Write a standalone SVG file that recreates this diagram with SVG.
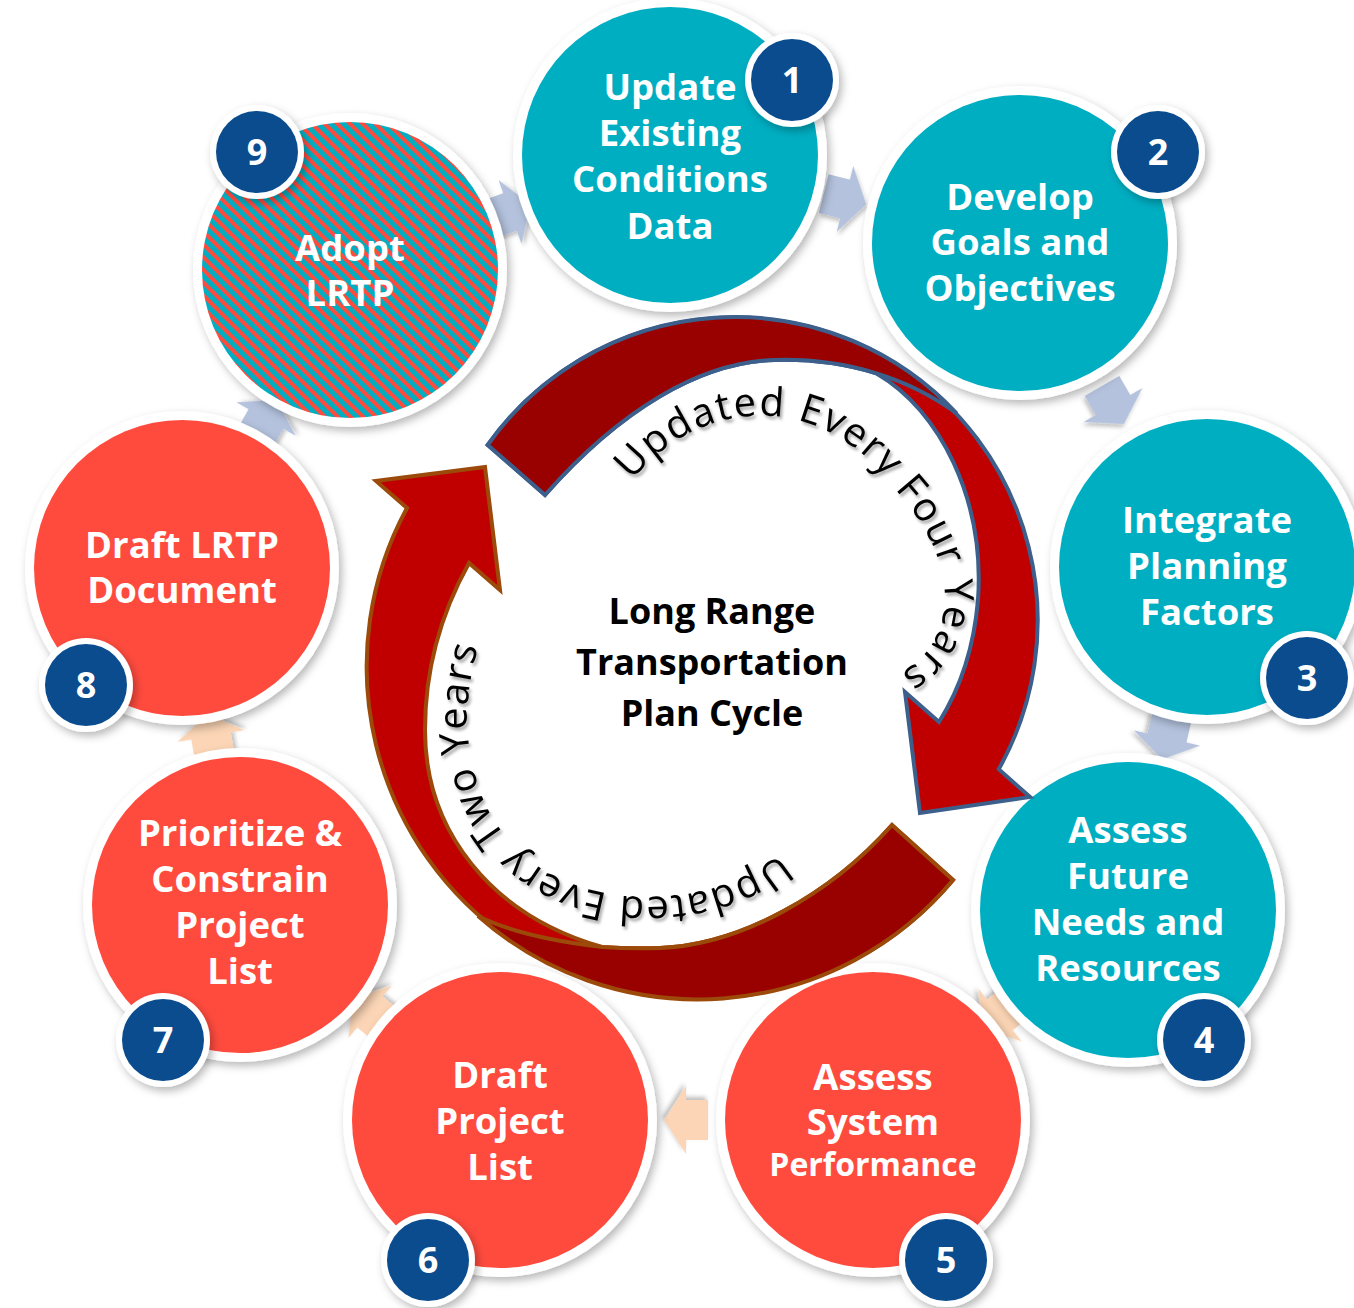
<svg xmlns="http://www.w3.org/2000/svg" xmlns:xlink="http://www.w3.org/1999/xlink" width="1354" height="1308" viewBox="0 0 1354 1308">
<style>
.nt{font-family:"Open Sans","Liberation Sans",sans-serif;font-weight:700;font-size:36.5px;fill:#fff;text-anchor:middle}
.bn{font-family:"Open Sans","Liberation Sans",sans-serif;font-weight:700;font-size:36px;fill:#fff;text-anchor:middle}
.ct{font-family:"Open Sans","Liberation Sans",sans-serif;font-weight:700;font-size:36px;fill:#000;text-anchor:middle}
.arc{font-family:"Open Sans","Liberation Sans",sans-serif;font-weight:400;font-size:40px;fill:#000}
.ring{fill:#fff;filter:url(#sh)}
.teal{fill:#00AEC2}
.coral{fill:#FF4B3E}
.badge{fill:#0A4C8E}
.bring{fill:#fff;filter:url(#sh)}
.cb{fill:#B4C2DD;filter:url(#sh2)}
.cp{fill:#FBD5B5;filter:url(#sh2)}
</style>
<defs>
<filter id="sh" x="-20%" y="-20%" width="140%" height="140%"><feDropShadow dx="3" dy="4" stdDeviation="4" flood-color="#000" flood-opacity="0.28"/></filter>
<filter id="sh2" x="-30%" y="-30%" width="160%" height="160%"><feDropShadow dx="2" dy="3" stdDeviation="2" flood-color="#000" flood-opacity="0.25"/></filter>
<filter id="tsh" x="-10%" y="-10%" width="120%" height="120%"><feDropShadow dx="2" dy="3" stdDeviation="1.5" flood-color="#000" flood-opacity="0.35"/></filter>
<pattern id="hatch" width="9" height="9" patternUnits="userSpaceOnUse" patternTransform="rotate(45)"><rect width="9" height="9" fill="#00AEC2"/><rect width="9" height="3.5" fill="#FF4B3E" shape-rendering="crispEdges"/></pattern>
<path id="blk" d="M-22,-20 L0,-20 L0,-34 L22,0 L0,34 L0,20 L-22,20 Z"/>
<path id="p4" d="M632,481 C690,405 815,378 900,495 C960,565 960,640 899,674"/>
<path id="p2" d="M779,853 C725,905 590,918 520,852 C470,805 455,725 478,648"/>
</defs>
<rect width="1354" height="1308" fill="#fff"/>
<g id="connectors">
<use href="#blk" class="cb" transform="translate(510,212) rotate(-19.8)"/>
<use href="#blk" class="cb" transform="translate(845,199) rotate(14.1)"/>
<use href="#blk" class="cb" transform="translate(1113,405) rotate(60)"/>
<use href="#blk" class="cb" transform="translate(1167,738) rotate(103)"/>
<use href="#blk" class="cp" transform="translate(1000,1015) rotate(140.5)"/>
<use href="#blk" class="cp" transform="translate(686,1120) rotate(180)"/>
<use href="#blk" class="cp" transform="translate(370,1012) rotate(219.6)"/>
<use href="#blk" class="cp" transform="translate(211,736) rotate(260)"/>
<use href="#blk" class="cb" transform="translate(266,419) rotate(-60.6)"/>
</g>
<g id="node1">
<circle class="ring" cx="670" cy="155" r="157"/><circle class="teal" cx="670" cy="155" r="148"/>
<text class="nt" x="670" y="100">Update</text><text class="nt" x="670" y="146">Existing</text><text class="nt" x="670" y="192">Conditions</text><text class="nt" x="670" y="239">Data</text>
<circle class="bring" cx="792" cy="80" r="47"/><circle class="badge" cx="792" cy="80" r="41"/><text class="bn" x="792" y="93">1</text>
</g>
<g id="node2">
<circle class="ring" cx="1020" cy="243" r="157"/><circle class="teal" cx="1020" cy="243" r="148"/>
<text class="nt" x="1020" y="210">Develop</text><text class="nt" x="1020" y="255">Goals and</text><text class="nt" x="1020" y="301">Objectives</text>
<circle class="bring" cx="1158" cy="152" r="47"/><circle class="badge" cx="1158" cy="152" r="41"/><text class="bn" x="1158" y="165">2</text>
</g>
<g id="node3">
<circle class="ring" cx="1207" cy="567" r="157"/><circle class="teal" cx="1207" cy="567" r="148"/>
<text class="nt" x="1207" y="533">Integrate</text><text class="nt" x="1207" y="579">Planning</text><text class="nt" x="1207" y="625">Factors</text>
<circle class="bring" cx="1307" cy="678" r="47"/><circle class="badge" cx="1307" cy="678" r="41"/><text class="bn" x="1307" y="691">3</text>
</g>
<g id="node4">
<circle class="ring" cx="1128" cy="910" r="157"/><circle class="teal" cx="1128" cy="910" r="148"/>
<text class="nt" x="1128" y="843">Assess</text><text class="nt" x="1128" y="889">Future</text><text class="nt" x="1128" y="935">Needs and</text><text class="nt" x="1128" y="981">Resources</text>
<circle class="bring" cx="1204" cy="1040" r="47"/><circle class="badge" cx="1204" cy="1040" r="41"/><text class="bn" x="1204" y="1053">4</text>
</g>
<g id="node5">
<circle class="ring" cx="873" cy="1120" r="157"/><circle class="coral" cx="873" cy="1120" r="148"/>
<text class="nt" x="873" y="1090">Assess</text><text class="nt" x="873" y="1135">System</text><text class="nt" x="873" y="1176" style="font-size:32px">Performance</text>
<circle class="bring" cx="946" cy="1260" r="47"/><circle class="badge" cx="946" cy="1260" r="41"/><text class="bn" x="946" y="1273">5</text>
</g>
<g id="node6">
<circle class="ring" cx="500" cy="1120" r="157"/><circle class="coral" cx="500" cy="1120" r="148"/>
<text class="nt" x="500" y="1088">Draft</text><text class="nt" x="500" y="1134">Project</text><text class="nt" x="500" y="1180">List</text>
<circle class="bring" cx="428" cy="1260" r="47"/><circle class="badge" cx="428" cy="1260" r="41"/><text class="bn" x="428" y="1273">6</text>
</g>
<g id="node7">
<circle class="ring" cx="240" cy="905" r="157"/><circle class="coral" cx="240" cy="905" r="148"/>
<text class="nt" x="240" y="846">Prioritize &amp;</text><text class="nt" x="240" y="892">Constrain</text><text class="nt" x="240" y="938">Project</text><text class="nt" x="240" y="984">List</text>
<circle class="bring" cx="163" cy="1040" r="47"/><circle class="badge" cx="163" cy="1040" r="41"/><text class="bn" x="163" y="1053">7</text>
</g>
<g id="node8">
<circle class="ring" cx="182" cy="568" r="157"/><circle class="coral" cx="182" cy="568" r="148"/>
<text class="nt" x="182" y="558">Draft LRTP</text><text class="nt" x="182" y="603">Document</text>
<circle class="bring" cx="86" cy="685" r="47"/><circle class="badge" cx="86" cy="685" r="41"/><text class="bn" x="86" y="698">8</text>
</g>
<g id="node9">
<circle class="ring" cx="350" cy="270" r="157"/><circle cx="350" cy="270" r="148" fill="url(#hatch)"/>
<text class="nt" x="350" y="261">Adopt</text><text class="nt" x="350" y="306">LRTP</text>
<circle class="bring" cx="257" cy="152" r="47"/><circle class="badge" cx="257" cy="152" r="41"/><text class="bn" x="257" y="165">9</text>
</g>
<g id="cycle">
<g stroke="#3C5F8C" stroke-width="4" stroke-linejoin="miter">
<path fill="#C00000" d="M487.7,445 A303,303 0 0 1 998.7,769.2 L1030,797 L920,813 L905,692 L939,722 Q972,670 978,600 C985,500 940,410 876.5,373.4 C846.25,364 812.5,359 775,360 C700,362 620,410 545,495 Z"/>
<path fill="#990000" d="M487.7,445 A303,303 0 0 1 956.6,413.4 C933.5,396.5 906.75,382.75 876.5,373.4 C846.25,364 812.5,359 775,360 C700,362 620,410 545,495 Z"/>
</g>
<g stroke="#9C4A0A" stroke-width="4" stroke-linejoin="miter">
<path fill="#C00000" d="M953,880 A332,332 0 0 1 407,508 L376,481 L485,467 L500,590 L469,563 C440,615 425,670 425,730 C425,830 490,915 602,947 Q630,949 660,948 C740,945 830,895 892,825 Z"/>
<path fill="#990000" d="M953,880 A332,332 0 0 1 478,916 C510,932 560,942 602,947 Q630,949 660,948 C740,945 830,895 892,825 Z"/>
</g>
<text class="arc" filter="url(#tsh)"><textPath href="#p4" textLength="522" lengthAdjust="spacing">Updated Every Four Years</textPath></text>
<text class="arc" filter="url(#tsh)"><textPath href="#p2" textLength="500" lengthAdjust="spacing">Updated Every Two Years</textPath></text>
<text class="ct" x="712" y="624">Long Range</text>
<text class="ct" x="712" y="675">Transportation</text>
<text class="ct" x="712" y="726">Plan Cycle</text>
</g>
</svg>
